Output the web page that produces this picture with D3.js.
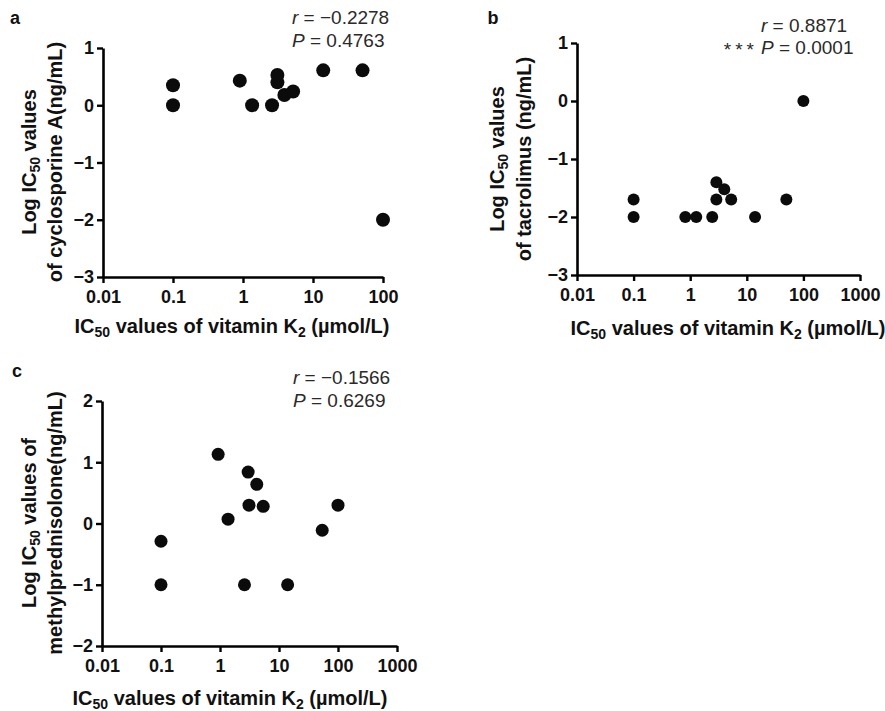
<!DOCTYPE html>
<html>
<head>
<meta charset="utf-8">
<script src="https://cdn.jsdelivr.net/npm/d3@7"></script>
<style>
  html, body { margin: 0; padding: 0; background: #fff; }
  svg { display: block; }
  text { font-family: "Liberation Sans", Arial, Helvetica, sans-serif; }
</style>
</head>
<body>
<svg id="fig" width="885" height="711"></svg>
<script>
// IC50 of vitamin K2 (µmol/L) against log IC50 of each immunosuppressant
const vitK2A = [0.1, 0.1, 0.9, 1.35, 2.6, 3.1, 3.1, 3.9, 5.2, 14, 51, 100];
const logCyclosporine = [0.35, 0, 0.43, 0, 0, 0.53, 0.40, 0.18, 0.24, 0.61, 0.61, -2];

const vitK2B = [0.1, 0.1, 0.82, 1.28, 2.45, 2.9, 4, 2.9, 5.3, 14, 50, 100];
const logTacrolimus = [-1.7, -2, -2, -2, -2, -1.4, -1.52, -1.7, -1.7, -2, -1.7, 0];

const vitK2C = [0.93, 3, 4.2, 3.1, 5.4, 1.37, 0.1, 0.1, 2.6, 14, 54, 100];
const logMethylpred = [1.13, 0.84, 0.64, 0.30, 0.28, 0.07, -0.29, -1, -1, -1, -0.11, 0.30];

// axis ticks
const xTicksA = [0.01, 0.1, 1, 10, 100];
const xTicksBC = [0.01, 0.1, 1, 10, 100, 1000];
const xTickLabels = {0.01: "0.01", 0.1: "0.1", 1: "1", 10: "10", 100: "100", 1000: "1000"};
const yTicksAB = [-3, -2, -1, 0, 1];
const yTicksC = [-2, -1, 0, 1, 2];

// correlation statistics
const statR = ["\u22120.2278", "0.8871", "\u22120.1566"];
const statP = ["0.4763", "0.0001", "0.6269"];
const statStars = ["", "***", ""];

// y axis titles (second line)
const yTitleLine1 = ["values", "values", "values of"];
const yTitleLine2 = ["of cyclosporine A(ng/mL)", "of tacrolimus (ng/mL)", "methylprednisolone(ng/mL)"];
const panelLetters = ["a", "b", "c"];

const svg = d3.select("#fig");

const panels = [
  { x: vitK2A, y: logCyclosporine, xTicks: xTicksA, yTicks: yTicksAB,
    xDomain: [0.01, 100], xRange: [103, 383], yDomain: [-3, 1], yRange: [277, 48],
    r: 7, letter: [15, 18], stat: { x: 292, y1: 17, y2: 40 },
    yt: { x1: 29, x2: 55, cy: 162 }, xt: { cx: 232, y: 326 } },
  { x: vitK2B, y: logTacrolimus, xTicks: xTicksBC, yTicks: yTicksAB,
    xDomain: [0.01, 1000], xRange: [577, 860], yDomain: [-3, 1], yRange: [275, 43],
    r: 6, letter: [493, 18], stat: { x: 761, y1: 25, y2: 47 },
    yt: { x1: 497, x2: 524, cy: 159 }, xt: { cx: 728, y: 328 } },
  { x: vitK2C, y: logMethylpred, xTicks: xTicksBC, yTicks: yTicksC,
    xDomain: [0.01, 1000], xRange: [102, 397], yDomain: [-2, 2], yRange: [646, 401],
    r: 6.5, letter: [17, 371], stat: { x: 293, y1: 377, y2: 400 },
    yt: { x1: 29, x2: 55, cy: 523 }, xt: { cx: 230, y: 698 } }
];

panels.forEach((p, i) => {
  const xs = d3.scaleLog().domain(p.xDomain).range(p.xRange);
  const ys = d3.scaleLinear().domain(p.yDomain).range(p.yRange);
  const g = svg.append("g");

  // x axis
  const xAxis = d3.axisBottom(xs).tickValues(p.xTicks)
    .tickFormat(d => xTickLabels[d]).tickSize(6).tickPadding(5).tickSizeOuter(0);
  const gx = g.append("g").attr("transform", `translate(0,${p.yRange[0]})`).call(xAxis);

  // y axis
  const yAxis = d3.axisLeft(ys).tickValues(p.yTicks)
    .tickFormat(d => d < 0 ? "\u2212" + Math.abs(d) : String(d))
    .tickSize(6).tickPadding(3).tickSizeOuter(0);
  const gy = g.append("g").attr("transform", `translate(${p.xRange[0]},0)`).call(yAxis);

  [gx, gy].forEach(ax => {
    ax.select(".domain").attr("stroke", "#000").attr("stroke-width", 2.6);
    ax.selectAll(".tick line").attr("stroke", "#000").attr("stroke-width", 2.4);
    ax.selectAll(".tick text").attr("fill", "#111").attr("font-size", 18)
      .attr("font-weight", "bold").attr("font-family", "'Liberation Sans', Arial, sans-serif");
  });
  gx.selectAll(".tick text").attr("dy", "0.85em");

  // points
  g.append("g").selectAll("circle")
    .data(p.x.map((v, k) => [v, p.y[k]]))
    .join("circle")
    .attr("cx", d => xs(d[0]))
    .attr("cy", d => ys(d[1]))
    .attr("r", p.r)
    .attr("fill", "#0b0b0b");

  // panel letter
  g.append("text").attr("x", p.letter[0]).attr("y", p.letter[1])
    .attr("dy", "0.35em").attr("text-anchor", "middle")
    .attr("font-size", 18).attr("font-weight", "bold").attr("fill", "#111")
    .text(panelLetters[i]);

  // statistics
  const s1 = g.append("text").attr("x", p.stat.x).attr("y", p.stat.y1).attr("dy", "0.35em")
    .attr("font-size", 19).attr("fill", "#2a2a2a");
  s1.append("tspan").attr("font-style", "italic").text("r");
  s1.append("tspan").text(" = " + statR[i]);
  const s2 = g.append("text").attr("x", p.stat.x).attr("y", p.stat.y2).attr("dy", "0.35em")
    .attr("font-size", 19).attr("fill", "#2a2a2a");
  s2.append("tspan").attr("font-style", "italic").text("P");
  s2.append("tspan").text(" = " + statP[i]);
  if (statStars[i]) {
    g.append("text").attr("x", p.stat.x - 3).attr("y", p.stat.y2).attr("dy", "0.45em")
      .attr("text-anchor", "end").attr("font-size", 19).attr("letter-spacing", 4)
      .attr("fill", "#2a2a2a").text(statStars[i]);
  }

  // y axis title (two rotated lines)
  const yl1 = g.append("text")
    .attr("transform", `translate(${p.yt.x1},${p.yt.cy}) rotate(-90)`)
    .attr("dy", "0.35em").attr("text-anchor", "middle")
    .attr("font-size", 20).attr("font-weight", "bold").attr("fill", "#111");
  yl1.append("tspan").text("Log IC");
  yl1.append("tspan").attr("font-size", 14).attr("dy", "0.3em").text("50");
  yl1.append("tspan").attr("dy", "-0.21em").text(" " + yTitleLine1[i]);
  g.append("text")
    .attr("transform", `translate(${p.yt.x2},${p.yt.cy}) rotate(-90)`)
    .attr("dy", "0.35em").attr("text-anchor", "middle")
    .attr("font-size", 20).attr("font-weight", "bold").attr("fill", "#111")
    .text(yTitleLine2[i]);

  // x axis title
  const xl = g.append("text").attr("x", p.xt.cx).attr("y", p.xt.y).attr("dy", "0.35em")
    .attr("text-anchor", "middle").attr("font-size", 20).attr("font-weight", "bold").attr("fill", "#111");
  xl.append("tspan").text("IC");
  xl.append("tspan").attr("font-size", 14).attr("dy", "0.3em").text("50");
  xl.append("tspan").attr("dy", "-0.21em").text(" values of vitamin K");
  xl.append("tspan").attr("font-size", 14).attr("dy", "0.3em").text("2");
  xl.append("tspan").attr("dy", "-0.21em").text(" (\u00b5mol/L)");
});
</script>
</body>
</html>
